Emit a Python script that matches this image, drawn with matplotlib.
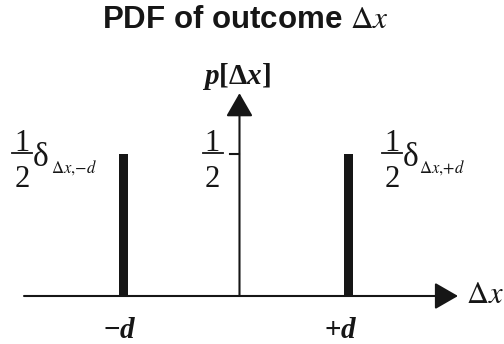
import matplotlib
matplotlib.use("Agg")
import matplotlib.pyplot as plt
from matplotlib.patches import ArrowStyle
from matplotlib.lines import Line2D

# ---- data ----
bar_x = [-1.031, 0.969]          # positions of -d and +d
bar_h = [0.5, 0.5]               # probabilities
tick_labels = [r'$-d$', r'$+d$']
peak_subs = [r'$\Delta x,\!{-}d$', r'$\Delta x,\!{+}d$']
frac_num, frac_den = '1', '2'
title = r'PDF of outcome $\Delta x$'

plt.rcParams['mathtext.fontset'] = 'custom'
plt.rcParams['mathtext.rm'] = 'Liberation Serif:bold'
plt.rcParams['mathtext.it'] = 'Liberation Serif:bold:italic'
plt.rcParams['mathtext.bf'] = 'Liberation Serif:bold'

INK = '#161616'
W, H = 504, 344
fig = plt.figure(figsize=(W / 100, H / 100), dpi=100)
ax = fig.add_axes([0, 0, 1, 1])
ax.set_xlim(-2.125, 2.347)
ax.set_ylim(-0.169, 1.042)
ax.axis('off')

# bars
ax.bar(bar_x, bar_h, width=0.078, color=INK, bottom=0, zorder=3)

lw = 1.5
style = ArrowStyle('-|>', head_length=14.4, head_width=8.3)
# horizontal axis with arrow
ax.annotate('', xy=(1.939, 0), xytext=(-1.912, 0),
            arrowprops=dict(arrowstyle=style, mutation_scale=1, lw=lw, color=INK,
                            shrinkA=0, shrinkB=0), zorder=2)
# vertical axis with arrow
ax.annotate('', xy=(0, 0.714), xytext=(0, 0),
            arrowprops=dict(arrowstyle=style, mutation_scale=1, lw=lw, color=INK,
                            shrinkA=0, shrinkB=0), zorder=2)
# y tick at 1/2
ax.plot([-0.080, 0], [bar_h[0], bar_h[0]], color=INK, lw=lw)


def px(x, y):
    return x / W, 1 - y / H


def frac(xc, ybar, x0, x1):
    fig.text(*px(xc, ybar - 2), frac_num, ha='center', va='baseline',
             fontsize=22, family='Liberation Serif', color=INK)
    fig.text(*px(xc, ybar + 34), frac_den, ha='center', va='baseline',
             fontsize=22, family='Liberation Serif', color=INK)
    fig.add_artist(Line2D([x0 / W, x1 / W], [1 - ybar / H, 1 - ybar / H],
                          transform=fig.transFigure, color=INK, lw=1.3))


# title
fig.text(*px(245, 28), title, ha='center', va='baseline', fontsize=22.5,
         fontweight='bold', family='Liberation Sans', math_fontfamily='stix',
         color=INK)
# y-axis label
fig.text(*px(236, 84), r'$p[\Delta x]$', ha='center', va='baseline',
         fontsize=21, math_fontfamily='custom', color=INK)
# x-axis label
fig.text(*px(466, 303), r'$\Delta x$', ha='left', va='baseline',
         fontsize=22, math_fontfamily='stix', color=INK)
# y tick label 1/2
frac(212, 153, 203, 223)
# peak labels: 1/2 delta_{...}
for (fx, bx0, bx1, dx, sx), sub in zip([(22, 12, 32, 33, 50), (392, 382, 402, 403, 418)],
                                       peak_subs):
    frac(fx, 153, bx0, bx1)
    fig.text(*px(dx, 166), 'δ', ha='left', va='baseline', fontsize=24,
             family='Liberation Serif', color=INK)
    fig.text(*px(sx + 1, 173), sub, ha='left', va='baseline', fontsize=12,
             math_fontfamily='stix', color=INK)
# tick labels under bars
for xv, lab, off in zip(bar_x, tick_labels, [-4, -8]):
    ax.annotate(lab, xy=(xv, 0), xytext=(off * 0.72, -42 * 0.72),
                textcoords='offset points', ha='center', va='baseline',
                fontsize=21, math_fontfamily='custom', color=INK)

fig.savefig('out.png', dpi=100)
